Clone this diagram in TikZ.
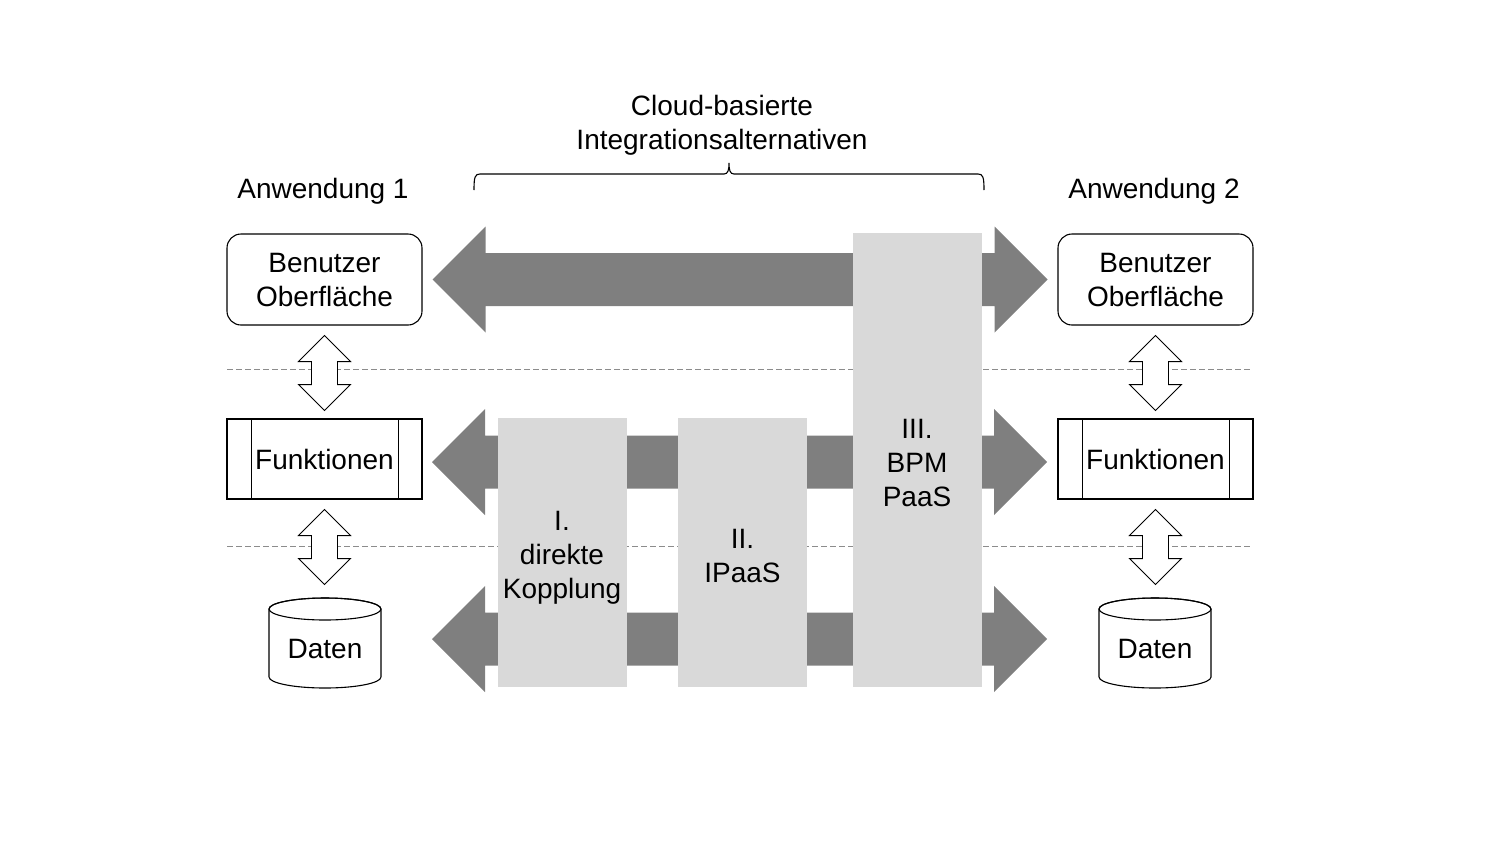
\documentclass[tikz,border=0pt]{standalone}
\usepackage{fontspec}
\setmainfont{Liberation Sans}
\usetikzlibrary{calc}
\definecolor{arrowgray}{HTML}{7F7F7F}
\definecolor{boxgray}{HTML}{D9D9D9}
\definecolor{dashgray}{HTML}{8C8C8C}
\tikzset{
  lbl/.style={font=\fontsize{28}{34}\selectfont, align=center, inner sep=0pt},
  uibox/.style={lbl, draw, line width=1.1pt, fill=white, rounded corners=14pt, minimum width=195pt, minimum height=91pt},
  fnbox/.style={lbl, draw, line width=1.1pt, fill=white, minimum width=195pt, minimum height=80pt},
  altbox/.style={fill=boxgray, minimum width=129pt, inner sep=0pt},
  garrow/.style={fill=arrowgray},
  hollow/.style={draw, line width=0.9pt, fill=white, line join=miter},
  layerline/.style={draw=dashgray, line width=0.9pt, dash pattern=on 6pt off 3pt},
  bracestyle/.style={draw, line width=1.1pt},
  cyl/.style={draw, line width=1.1pt, fill=white}
}
\begin{document}
\begin{tikzpicture}[x=1pt,y=-1pt]
\useasboundingbox (0,0) rectangle (1500,844);

% titles
\node[lbl] (title) at (722,125) {Cloud-basierte\\Integrationsalternativen};
\node[lbl] (app1) at (323,191) {Anwendung 1};
\node[lbl] (app2) at (1154,191) {Anwendung 2};

% brace
\coordinate (brL) at (474,190);
\coordinate (brM) at (729,163);
\coordinate (brR) at (984,190);
\draw[bracestyle] (brL) .. controls (474,177) and (475,174) .. (480,174) -- (724,174)
  .. controls (728,174) and (729,170) .. (brM)
  .. controls (729,170) and (730,174) .. (734,174) -- (978,174)
  .. controls (983,174) and (984,177) .. (brR);

% application 1
\node[uibox] (ui1) at (324.5,279.5) {Benutzer\\Oberfläche};
\node[fnbox] (fn1) at (324.5,459) {Funktionen};
\draw[line width=1.1pt] ($(fn1.north west)+(25,0)$) -- ($(fn1.south west)+(25,0)$);
\draw[line width=1.1pt] ($(fn1.north east)+(-24,0)$) -- ($(fn1.south east)+(-24,0)$);
\draw[cyl] (269,609) -- (269,677) arc[start angle=180,end angle=0,x radius=56,y radius=11]
  -- (381,609) arc[start angle=0,end angle=-180,x radius=56,y radius=11] -- cycle;
\draw[line width=1.1pt] (325,609) ellipse[x radius=56,y radius=11];
\node[lbl] (db1) at (325,649) {Daten};

% application 2
\node[uibox] (ui2) at (1155.5,279.5) {Benutzer\\Oberfläche};
\node[fnbox] (fn2) at (1155.5,459) {Funktionen};
\draw[line width=1.1pt] ($(fn2.north west)+(25,0)$) -- ($(fn2.south west)+(25,0)$);
\draw[line width=1.1pt] ($(fn2.north east)+(-24,0)$) -- ($(fn2.south east)+(-24,0)$);
\draw[cyl] (1099,609) -- (1099,677) arc[start angle=180,end angle=0,x radius=56,y radius=11]
  -- (1211,609) arc[start angle=0,end angle=-180,x radius=56,y radius=11] -- cycle;
\draw[line width=1.1pt] (1155,609) ellipse[x radius=56,y radius=11];
\node[lbl] (db2) at (1155,649) {Daten};

% layer separators
\draw[layerline] (227,369) -- (1251,369);
\draw[layerline] (227,546) -- (1251,546);

% gray block arrows
\coordinate (tUI) at ($(ui1.east)+(10,0)$);
\coordinate (tFN) at (432,462);
\coordinate (tDB) at (432,639);
\foreach \c in {tUI,tFN,tDB}{
  \fill[garrow] (\c) -- ++(53,-53) -- ++(0,26.5) -- ++(509,0) -- ++(0,-26.5) -- ++(53,53)
    -- ++(-53,53) -- ++(0,-26.5) -- ++(-509,0) -- ++(0,26.5) -- cycle;
}

% integration alternatives
\node[altbox, minimum height=269pt] (alt1) at (562,552.5) {};
\node[altbox, minimum height=269pt] (alt2) at (742.5,552.5) {};
\node[altbox, minimum height=454pt] (alt3) at (917,460) {};
\node[lbl] (alt1t) at ($(alt1.center)+(0,5)$) {I.\\direkte\\Kopplung};
\node[lbl] (alt2t) at ($(alt2.center)+(0,3)$) {II.\\IPaaS};
\node[lbl] (alt3t) at ($(alt3.center)+(0,3)$) {III.\\BPM\\PaaS};

% hollow double arrows
\foreach \a in {ui1,fn1,ui2,fn2}{
  \draw[hollow] (\a.south) ++(0,10) -- ++(26,26) -- ++(-13,0) -- ++(0,23) -- ++(13,0)
    -- ++(-26,26) -- ++(-26,-26) -- ++(13,0) -- ++(0,-23) -- ++(-13,0) -- cycle;
}
\end{tikzpicture}
\end{document}
